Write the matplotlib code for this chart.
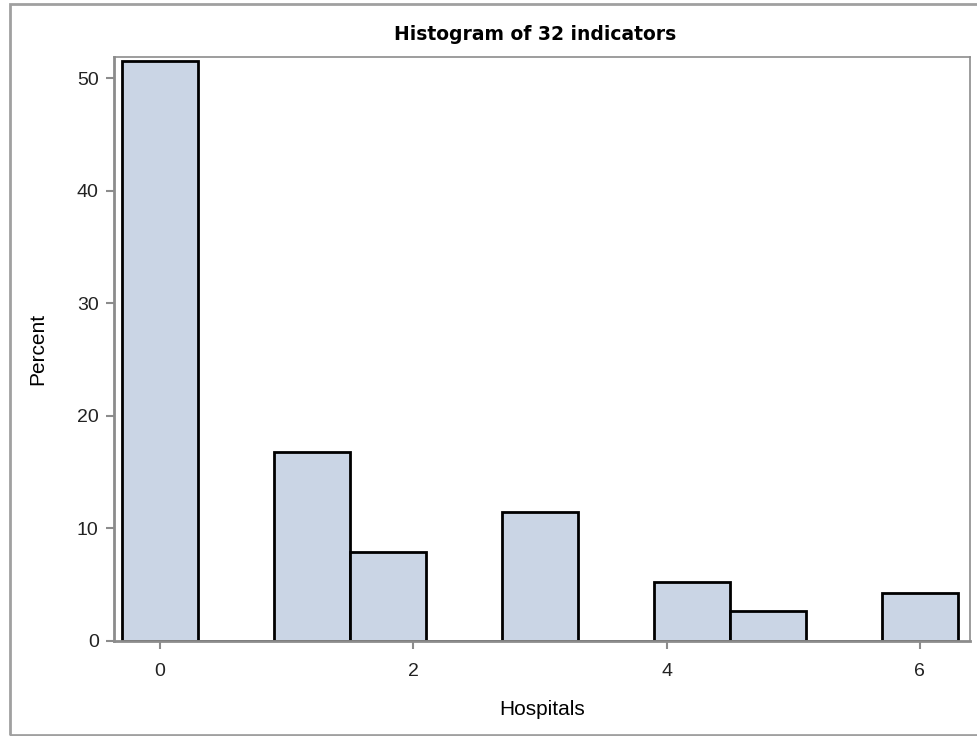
"""
Histogram of 32 indicators (SAS-style bars)
"""

import matplotlib
matplotlib.use('Agg')
import matplotlib.pyplot as plt
from matplotlib.patches import Rectangle

# bin midpoints (hospitals) and percent per bin
bin_mid = [0.0, 0.6, 1.2, 1.8, 2.4, 3.0, 3.6, 4.2, 4.8, 5.4, 6.0]
percent = [51.5, 0.0, 16.8, 7.9, 0.0, 11.5, 0.0, 5.2, 2.7, 0.0, 4.3]
bin_width = 0.6

x_ticks = [0, 2, 4, 6]
y_ticks = [0, 10, 20, 30, 40, 50]

BAR_FILL = '#cad5e5'
FRAME = '#8c8c8c'

plt.rcParams['font.family'] = ['Liberation Sans', 'DejaVu Sans']

fig = plt.figure(figsize=(9.77, 7.36), dpi=100)
ax = fig.add_axes([0.1167, 0.1291, 0.8761, 0.7935])

ax.bar(bin_mid, percent, width=bin_width, color=BAR_FILL,
       edgecolor='black', linewidth=2, zorder=2)

ax.set_xlim(-0.363, 6.395)
ax.set_ylim(0, 51.9)
ax.set_xticks(x_ticks)
ax.set_yticks(y_ticks)

for s in ax.spines.values():
    s.set_color(FRAME)
    s.set_linewidth(1.2)
ax.spines['left'].set_linewidth(2)
ax.spines['bottom'].set_linewidth(2)

ax.tick_params(axis='both', direction='out', length=6, width=1.5,
               color=FRAME, labelsize=14, labelcolor='#222222')
ax.tick_params(axis='x', pad=10)
ax.tick_params(axis='y', pad=5)

ax.set_xlabel('Hospitals', fontsize=15, labelpad=14)
ax.set_ylabel('Percent', fontsize=15, labelpad=21)
ax.set_title('Histogram of 32 indicators', fontsize=13.5, fontweight='bold',
             family='DejaVu Sans', pad=12, x=0.492)

# outer border of the graph
fig.patches.append(Rectangle((10 / 977, 1 / 736), 980 / 977, 731 / 736,
                             transform=fig.transFigure, fill=False,
                             edgecolor='#a0a0a0', linewidth=2))

fig.savefig('out.png', dpi=100)
